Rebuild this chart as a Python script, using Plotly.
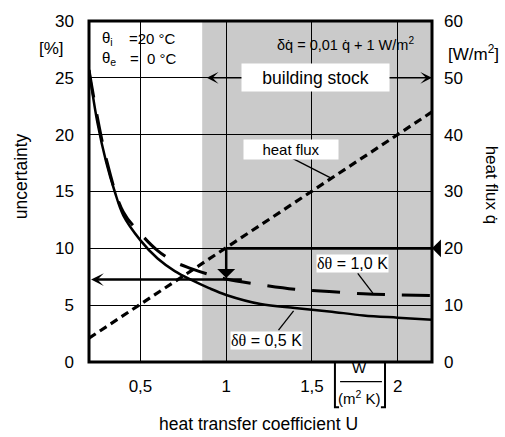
import plotly.graph_objects as go

# ---- data ----
u_solid = [0.2, 0.25, 0.3, 0.35, 0.4, 0.5, 0.6, 0.7, 0.8, 0.9, 1.0, 1.2, 1.4, 1.6, 1.8, 2.0, 2.2]
unc_05K = [25.7, 21.0, 17.6, 15.0, 12.9, 10.7, 9.1, 8.0, 7.2, 6.5, 5.9, 5.1, 4.75, 4.45, 4.1, 3.9, 3.72]

u_dash = [0.2, 0.3, 0.4, 0.5, 0.6, 0.7, 0.8, 0.9, 1.0, 1.2, 1.4, 1.6, 1.8, 2.0, 2.2]
unc_10K = [25.7, 17.9, 13.2, 11.3, 9.8, 8.8, 8.2, 7.7, 7.3, 6.8, 6.4, 6.2, 6.0, 5.9, 5.85]

u_flux = [0.2, 2.2]
heat_flux = [4.2, 44.0]

x_ticks = [0.5, 1.0, 1.5, 2.0]
x_ticktext = ["0,5", "1", "1,5", "2"]
y_ticks = [0, 5, 10, 15, 20, 25, 30]
y2_ticks = [0, 10, 20, 30, 40, 50, 60]

stock_start = 0.86          # building stock region start (U)
stock_arrow = [0.878, 2.2]  # building stock arrow ends (U), at uncertainty 25
stock_level = 25
read_U = 1.0                # example U
read_flux_level = 10        # on left scale (= 20 W/m2)
read_unc = 7.25             # resulting uncertainty
read_arrow_end = 1.1

FONT = "Arial, Liberation Sans, sans-serif"


def txt(size):
    return dict(size=size, family=FONT, color="black")


fig = go.Figure()

fig.add_trace(go.Scatter(x=u_flux, y=heat_flux, yaxis="y2", mode="lines",
                         line=dict(color="black", width=3.2, dash="8px,5px"),
                         showlegend=False, hoverinfo="skip"))
fig.add_trace(go.Scatter(x=u_dash, y=unc_10K, mode="lines",
                         line=dict(color="black", width=3, dash="28px,17px", shape="spline"),
                         showlegend=False, hoverinfo="skip"))
fig.add_trace(go.Scatter(x=u_solid, y=unc_05K, mode="lines",
                         line=dict(color="black", width=2.5, shape="spline"),
                         showlegend=False, hoverinfo="skip"))

shapes = [
    dict(type="rect", xref="x", yref="paper", x0=stock_start, x1=2.2, y0=0, y1=1,
         fillcolor="#cacaca", line=dict(width=0), layer="below"),
    # thick line at 20 W/m2
    dict(type="line", xref="x", yref="y", x0=read_U, x1=2.2, y0=read_flux_level, y1=read_flux_level,
         line=dict(color="black", width=2.7)),
    # leader lines
    dict(type="line", xref="x", yref="y", x0=1.375, y0=18.0, x1=1.609, y1=16.2,
         line=dict(color="black", width=1.3)),
    dict(type="line", xref="x", yref="y", x0=1.767, y0=7.8, x1=1.855, y1=6.05,
         line=dict(color="black", width=1.3)),
    dict(type="line", xref="x", yref="y", x0=1.305, y0=2.8, x1=1.393, y1=4.5,
         line=dict(color="black", width=1.3)),
    # plot frame
    dict(type="rect", xref="paper", yref="paper", x0=0, x1=1, y0=0, y1=1,
         line=dict(color="black", width=3), layer="above"),
    # unit fraction with brackets
    dict(type="line", xref="paper", yref="paper", x0=0.732, x1=0.854, y0=-0.0576, y1=-0.0576,
         line=dict(color="black", width=1.3)),
    dict(type="path", xref="paper", yref="paper",
         path="M 0.729,0 L 0.717,0 L 0.717,-0.1326 L 0.729,-0.1326",
         line=dict(color="black", width=2)),
    dict(type="path", xref="paper", yref="paper",
         path="M 0.851,0 L 0.863,0 L 0.863,-0.1326 L 0.851,-0.1326",
         line=dict(color="black", width=2)),
]

C = dict(xanchor="center", yanchor="middle", showarrow=False)

ann = [
    # arrows
    dict(x=read_U, y=read_unc + 0.15, ax=read_U, ay=read_flux_level, xref="x", yref="y",
         axref="x", ayref="y", text="", showarrow=True, arrowhead=1, arrowwidth=2.5,
         arrowsize=1.2, arrowcolor="black"),
    dict(x=0.212, y=read_unc, ax=read_arrow_end, ay=read_unc, xref="x", yref="y",
         axref="x", ayref="y", text="", showarrow=True, arrowhead=3, arrowwidth=2.5,
         arrowsize=0.85, arrowcolor="black"),
    dict(x=2.2, y=read_flux_level, ax=2.25, ay=read_flux_level, xref="x", yref="y",
         axref="x", ayref="y", text="", showarrow=True, arrowhead=1, arrowwidth=2.7,
         arrowsize=1.1, arrowcolor="black"),
    dict(x=stock_arrow[1], y=stock_level, ax=stock_arrow[0], ay=stock_level, xref="x", yref="y",
         axref="x", ayref="y", text="", showarrow=True, arrowhead=3, startarrowhead=3,
         arrowside="end+start", arrowwidth=1.3, arrowsize=1.5, startarrowsize=1.5,
         arrowcolor="black"),
    # labels inside plot
    dict(x=1.52, y=25.0, xref="x", yref="y", text="building stock",
         bgcolor="white", width=145, height=25, font=txt(17.5), **C),
    dict(x=1.375, y=18.7, xref="x", yref="y", text="heat flux",
         bgcolor="white", width=92, height=17, font=txt(15), **C),
    dict(x=1.738, y=8.65, xref="x", yref="y",
         text="<span style=\"font-family:'Liberation Serif'\">δθ</span> = 1,0 K",
         bgcolor="white", borderpad=0, font=txt(16), **C),
    dict(x=1.235, y=1.9, xref="x", yref="y",
         text="<span style=\"font-family:'Liberation Serif'\">δθ</span> = 0,5 K",
         bgcolor="white", borderpad=0, font=txt(16), **C),
    dict(x=1.697, y=28.0, xref="x", yref="y", text="δq\u0307 = 0,01 q\u0307 + 1 W/m<sup>2</sup>",
         font=txt(14.5), **C),
    dict(x=0.264, y=28.45, xref="x", yref="y", text="θ<sub>i</sub>", xanchor="left",
         yanchor="middle", showarrow=False, font=txt(15)),
    dict(x=0.42, y=28.45, xref="x", yref="y", text="=20 °C", xanchor="left",
         yanchor="middle", showarrow=False, font=txt(15)),
    dict(x=0.264, y=26.7, xref="x", yref="y", text="θ<sub>e</sub>", xanchor="left",
         yanchor="middle", showarrow=False, font=txt(15)),
    dict(x=0.425, y=26.7, xref="x", yref="y", text="=  0 °C", xanchor="left",
         yanchor="middle", showarrow=False, font=txt(15)),
    # axis titles / units
    dict(x=-0.198, y=0.545, xref="paper", yref="paper", text="uncertainty", textangle=-90,
         font=txt(17.5), **C),
    dict(x=1.176, y=0.519, xref="paper", yref="paper", text="heat flux q\u0307", textangle=90,
         font=txt(17), **C),
    dict(x=-0.108, y=0.919, xref="paper", yref="paper", text="[%]", font=txt(17), **C),
    dict(x=1.122, y=0.905, xref="paper", yref="paper", text="[W/m<sup>2</sup>]",
         font=txt(17), **C),
    dict(x=0.493, y=-0.182, xref="paper", yref="paper", text="heat transfer coefficient U",
         font=txt(17.5), **C),
    dict(x=0.790, y=-0.0173, xref="paper", yref="paper", text="W", font=txt(15), **C),
    dict(x=0.790, y=-0.1037, xref="paper", yref="paper", text="(m<sup>2</sup> K)",
         font=txt(15), **C),
]

fig.update_layout(
    width=505, height=437,
    margin=dict(l=89, r=73, t=15, b=75),
    paper_bgcolor="white", plot_bgcolor="white",
    font=dict(family=FONT, size=17, color="black"),
    showlegend=False,
    shapes=shapes, annotations=ann,
    xaxis=dict(range=[0.2, 2.2], tickvals=x_ticks, ticktext=x_ticktext,
               showgrid=True, gridcolor="black", gridwidth=1.2, zeroline=False,
               showline=False, ticks="", ticklabelstandoff=12, tickfont=txt(17)),
    yaxis=dict(range=[0, 30], tickvals=y_ticks, showgrid=True, gridcolor="black",
               gridwidth=1.2, zeroline=False, showline=False, ticks="",
               ticklabelstandoff=14, tickfont=txt(17)),
    yaxis2=dict(range=[0, 60], tickvals=y2_ticks, overlaying="y", side="right",
                showgrid=False, zeroline=False, showline=False, ticks="",
                ticklabelstandoff=11, tickfont=txt(17)),
)

fig.write_html("out.html")
